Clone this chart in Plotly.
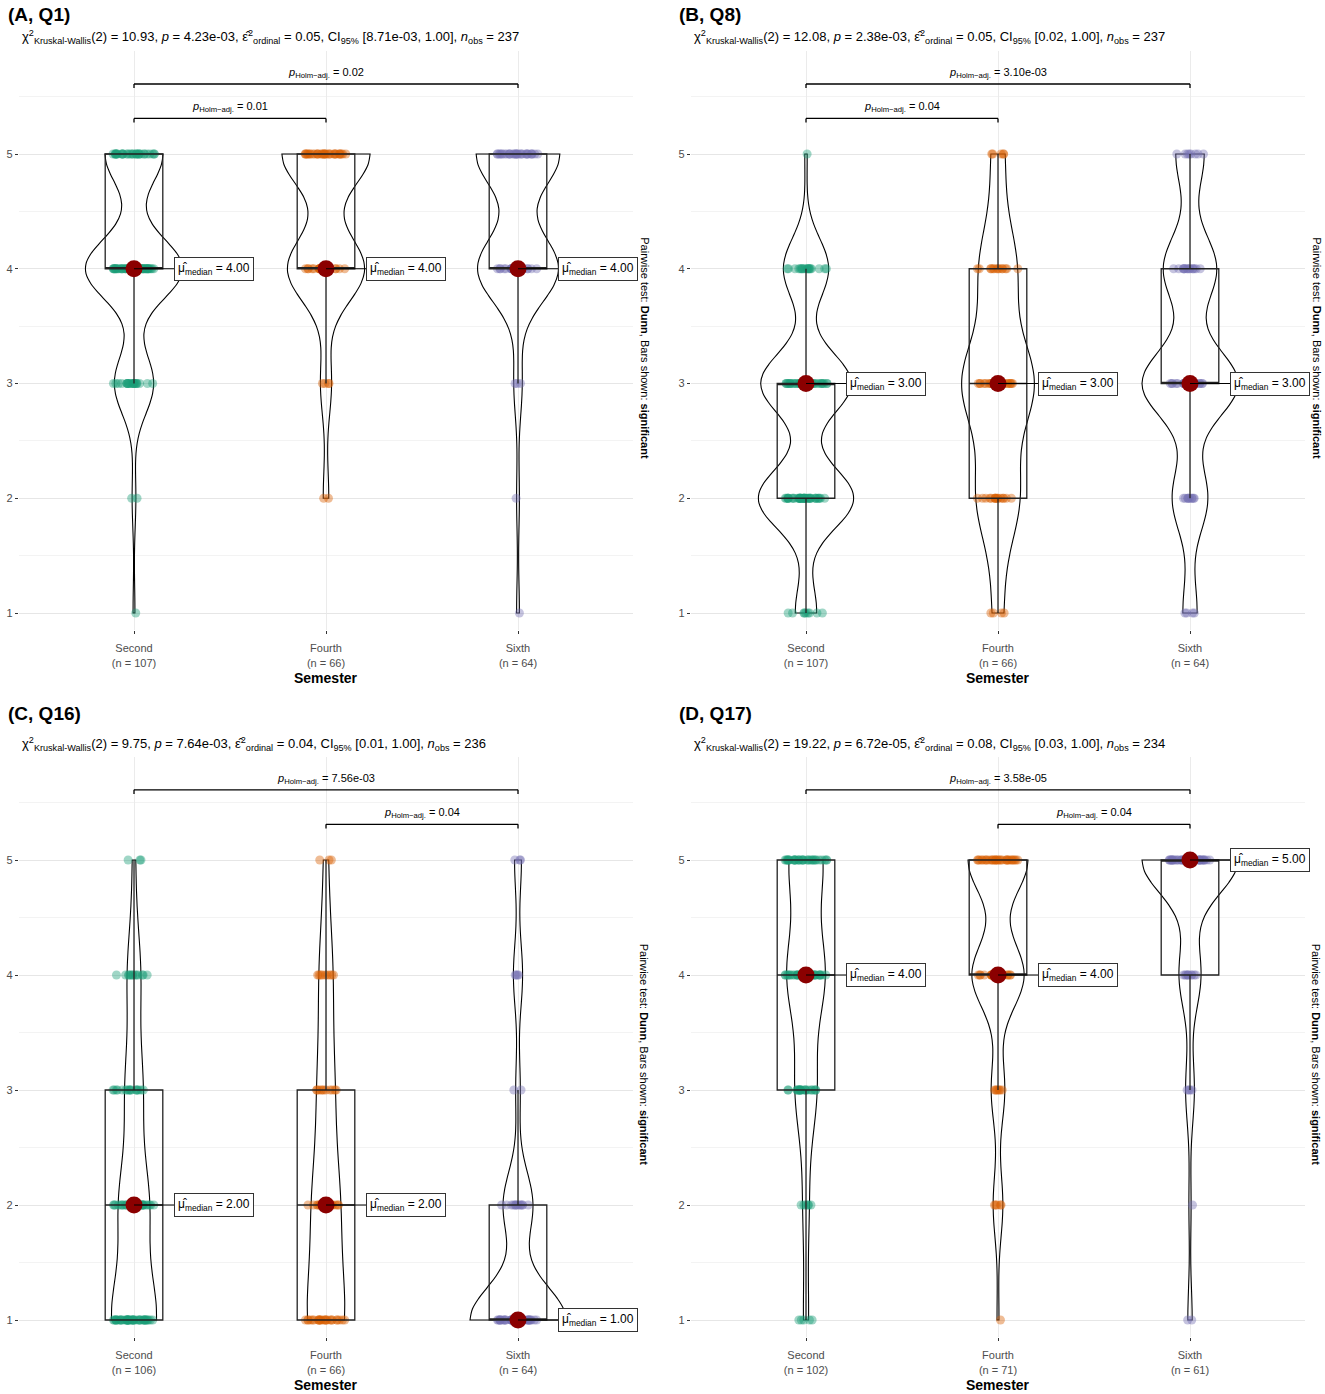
import numpy as np
import plotly.graph_objects as go

W, H = 1325, 1394

# ---------------- data ----------------
levels = [1, 2, 3, 4, 5]
groups = ["Second", "Fourth", "Sixth"]

# number of answers per response level 1..5, per semester
q1_second = [1, 2, 21, 52, 31]
q1_fourth = [0, 2, 4, 28, 32]
q1_sixth = [1, 1, 3, 29, 30]

q8_second = [9, 40, 38, 19, 1]
q8_fourth = [4, 16, 27, 14, 5]
q8_sixth = [4, 10, 27, 15, 8]

q16_second = [44, 29, 17, 13, 3]
q16_fourth = [25, 18, 11, 9, 3]
q16_sixth = [42, 13, 2, 4, 3]

q17_second = [5, 6, 21, 37, 33]
q17_fourth = [1, 5, 7, 27, 31]
q17_sixth = [2, 1, 4, 10, 44]

panel_titles = ["(A, Q1)", "(B, Q8)", "(C, Q16)", "(D, Q17)"]
kw_stat = ["10.93", "12.08", "9.75", "19.22"]
kw_p = ["4.23e-03", "2.38e-03", "7.64e-03", "6.72e-05"]
eps2 = ["0.05", "0.05", "0.04", "0.08"]
ci_low = ["8.71e-03", "0.02", "0.01", "0.03"]
ci_high = ["1.00", "1.00", "1.00", "1.00"]

pairs_a = [("Second", "Sixth", "0.02"), ("Second", "Fourth", "0.01")]
pairs_b = [("Second", "Sixth", "3.10e-03"), ("Second", "Fourth", "0.04")]
pairs_c = [("Second", "Sixth", "7.56e-03"), ("Fourth", "Sixth", "0.04")]
pairs_d = [("Second", "Sixth", "3.58e-05"), ("Fourth", "Sixth", "0.04")]

panels = [
    dict(counts=[q1_second, q1_fourth, q1_sixth], pairs=pairs_a),
    dict(counts=[q8_second, q8_fourth, q8_sixth], pairs=pairs_b),
    dict(counts=[q16_second, q16_fourth, q16_sixth], pairs=pairs_c),
    dict(counts=[q17_second, q17_fourth, q17_sixth], pairs=pairs_d),
]

# ---------------- styles ----------------
colors = {"Second": "#1B9E77", "Fourth": "#D95F02", "Sixth": "#7570B3"}
FONT = "Liberation Sans"
col_c0 = [134, 806]          # pixel x of first category per column
spacing = 192                # pixels per category
row_y5 = [154, 860]          # pixel y of value 5 per row
row_unit = [114.75, 115.0]   # pixels per unit
YR = [0.85, 5.9]
bracket_levels = [5.61, 5.31]


def fx(p):
    return p / W


def fy(p):
    return 1 - p / H


def nrd0(v):
    v = np.asarray(v, float)
    sd = np.std(v, ddof=1)
    iqr = np.percentile(v, 75) - np.percentile(v, 25)
    lo = min(sd, iqr / 1.34)
    if lo == 0:
        lo = sd if sd > 0 else 1.0
    return 0.9 * lo * len(v) ** (-0.2)


def peak_density(v, bw):
    v = np.asarray(v, float)
    grid = np.linspace(v.min(), v.max(), 512)
    d = np.exp(-0.5 * ((grid[:, None] - v[None, :]) / bw) ** 2).sum(axis=1)
    return (d / (len(v) * bw * np.sqrt(2 * np.pi))).max()


fig = go.Figure()
annotations = []
shapes = []
layout_axes = {}

for k, pnl in enumerate(panels):
    r, c = divmod(k, 2)
    sfx = "" if k == 0 else str(k + 1)
    xa, ya = "x" + sfx, "y" + sfx
    c0 = col_c0[c]
    y5, u = row_y5[r], row_unit[r]
    left_px = c0 - 0.6 * spacing
    right_px = c0 + 2.6 * spacing
    top_px = y5 - (YR[1] - 5) * u
    bot_px = y5 + (5 - YR[0]) * u

    data = {g: np.repeat(levels, cnt) for g, cnt in zip(groups, pnl["counts"])}
    bws = {g: nrd0(data[g]) for g in groups}
    peaks = {g: peak_density(data[g], bws[g]) for g in groups}
    pmax = max(peaks.values())

    # jittered points
    for g in groups:
        fig.add_trace(go.Box(
            x=[g] * len(data[g]), y=data[g], xaxis=xa, yaxis=ya,
            boxpoints="all", jitter=1, pointpos=0, width=0.22,
            marker=dict(color=colors[g], size=9, opacity=0.42, line=dict(width=0)),
            line=dict(width=0, color="rgba(0,0,0,0)"), fillcolor="rgba(0,0,0,0)",
            showlegend=False, hoverinfo="skip"))
    # boxes
    for g in groups:
        fig.add_trace(go.Box(
            x=[g] * len(data[g]), y=data[g], xaxis=xa, yaxis=ya,
            boxpoints="outliers", quartilemethod="linear", width=0.3, whiskerwidth=0,
            marker=dict(opacity=0, size=1), line=dict(color="#222222", width=1.3),
            fillcolor="rgba(0,0,0,0)", showlegend=False, hoverinfo="skip"))
    # violins
    for g in groups:
        fig.add_trace(go.Violin(
            x=[g] * len(data[g]), y=data[g], xaxis=xa, yaxis=ya,
            bandwidth=bws[g], spanmode="hard", scalemode="width",
            width=0.5 * peaks[g] / pmax, points=False,
            line=dict(color="black", width=1.1), fillcolor="rgba(255,255,255,0)",
            box_visible=False, meanline_visible=False,
            showlegend=False, hoverinfo="skip"))
    # medians
    meds = [float(np.median(data[g])) for g in groups]
    fig.add_trace(go.Scatter(
        x=groups, y=meds, xaxis=xa, yaxis=ya, mode="markers",
        marker=dict(color="#8B0000", size=17), showlegend=False, hoverinfo="skip"))
    for g, m in zip(groups, meds):
        annotations.append(dict(
            x=g, y=m, xref=xa, yref=ya, showarrow=True, arrowhead=0,
            arrowwidth=1.2, arrowcolor="black", ax=40, ay=0, xanchor="left",
            text="μ̂<sub>median</sub> = %.2f" % m,
            font=dict(family=FONT, size=12, color="black"),
            bgcolor="white", bordercolor="#333333", borderwidth=1, borderpad=3))

    # pairwise brackets
    for (g1, g2, pv), lvl in zip(pnl["pairs"], bracket_levels):
        i1, i2 = groups.index(g1), groups.index(g2)
        tick = 0.035
        shapes.append(dict(type="line", xref=xa, yref=ya, x0=i1, x1=i2, y0=lvl, y1=lvl,
                           line=dict(color="black", width=1.3)))
        for ii in (i1, i2):
            shapes.append(dict(type="line", xref=xa, yref=ya, x0=ii, x1=ii, y0=lvl, y1=lvl - tick,
                               line=dict(color="black", width=1.3)))
        annotations.append(dict(
            x=(i1 + i2) / 2, y=lvl + 0.02, xref=xa, yref=ya, showarrow=False,
            yanchor="bottom", text="<i>p</i><sub>Holm−adj.</sub> = " + pv,
            font=dict(family=FONT, size=11, color="black")))

    # axes
    ns = [len(data[g]) for g in groups]
    layout_axes["xaxis" + sfx] = dict(
        domain=[fx(left_px), fx(right_px)], anchor=ya, type="category",
        categoryorder="array", categoryarray=groups, range=[-0.6, 2.6],
        tickvals=groups, ticktext=["%s<br>(n = %d)" % (g, n) for g, n in zip(groups, ns)],
        tickfont=dict(family=FONT, size=11, color="#4D4D4D"),
        ticks="outside", ticklen=3, tickcolor="#333333", ticklabelstandoff=5,
        showgrid=True, gridcolor="#EBEBEB", gridwidth=1, zeroline=False, showline=False)
    layout_axes["yaxis" + sfx] = dict(
        domain=[fy(bot_px), fy(top_px)], anchor=xa, range=YR,
        tickvals=levels, tickfont=dict(family=FONT, size=11, color="#4D4D4D"),
        ticks="outside", ticklen=3, tickcolor="#333333",
        showgrid=True, gridcolor="#E6E6E6", gridwidth=1, zeroline=False, showline=False,
        minor=dict(dtick=0.5, tick0=0.5, showgrid=True, gridcolor="#F3F3F3", ticks=""))

    # texts
    title_x = [6, 677][c]
    title_y = [15, 713][r]
    annotations.append(dict(x=fx(title_x), y=fy(title_y), xref="paper", yref="paper",
                            xanchor="left", yanchor="middle", showarrow=False,
                            text="<b>%s</b>" % panel_titles[k],
                            font=dict(family=FONT, size=19, color="black")))
    sub = ("χ<sup>2</sup><sub>Kruskal-Wallis</sub>(2) = %s, <i>p</i> = %s, "
           "ε̂<sup>2</sup><sub>ordinal</sub> = %s, CI<sub>95%%</sub> [%s, %s], "
           "<i>n</i><sub>obs</sub> = %d") % (kw_stat[k], kw_p[k], eps2[k], ci_low[k], ci_high[k], sum(ns))
    annotations.append(dict(x=fx(left_px + 1), y=fy([37, 744][r]), xref="paper", yref="paper",
                            xanchor="left", yanchor="middle", showarrow=False, text=sub,
                            font=dict(family=FONT, size=13, color="black")))
    annotations.append(dict(x=fx(c0 + spacing), y=fy(bot_px + 48), xref="paper", yref="paper",
                            xanchor="center", yanchor="middle", showarrow=False,
                            text="<b>Semester</b>", font=dict(family=FONT, size=14, color="black")))
    annotations.append(dict(x=fx(right_px + 11), y=fy((top_px + bot_px) / 2 + 8),
                            xref="paper", yref="paper", xanchor="center", yanchor="middle",
                            showarrow=False, textangle=90,
                            text="Pairwise test: <b>Dunn</b>, Bars shown: <b>significant</b>",
                            font=dict(family=FONT, size=11, color="black")))

fig.update_layout(
    width=W, height=H, margin=dict(l=0, r=0, t=0, b=0),
    paper_bgcolor="white", plot_bgcolor="white",
    boxmode="overlay", violinmode="overlay",
    annotations=annotations, shapes=shapes, showlegend=False,
    font=dict(family=FONT),
    **layout_axes)

fig.write_html(
    "out.html",
    config={"displayModeBar": False},
    post_script="document.body.style.margin='0';document.body.style.overflow='hidden';")
